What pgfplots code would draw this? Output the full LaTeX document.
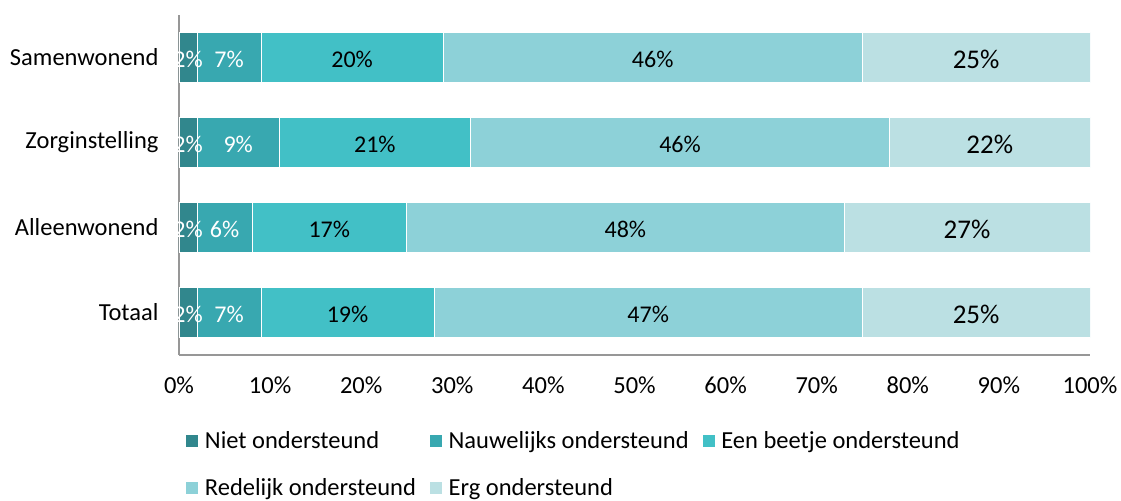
\documentclass[border=0pt]{standalone}
\usepackage{pgfplots}
\pgfplotsset{compat=1.18}
\usepackage{fontspec}
\setmainfont{Carlito}
\definecolor{c1}{HTML}{31878D}
\definecolor{c2}{HTML}{38A8B0}
\definecolor{c3}{HTML}{42C0C6}
\definecolor{c4}{HTML}{8DD1D8}
\definecolor{c5}{HTML}{BBE0E3}
\definecolor{axgray}{HTML}{979797}
\begin{document}
\begin{tikzpicture}[font=\fontsize{24.5}{29}\selectfont]
\begin{axis}[
  at={(0,0)}, anchor=south west,
  xbar stacked, bar width=50pt,
  scale only axis, width=911pt, height=340pt,
  xmin=0, xmax=100, ymin=-0.5, ymax=3.5,
  xtick={0,10,...,100},
  xticklabel={\pgfmathprintnumber{\tick}\%},
  ytick={0,1,2,3},
  yticklabels={Totaal,Alleenwonend,Zorginstelling,Samenwonend},
  axis x line=bottom, axis y line=left,
  axis line style={-, axgray, line width=1.2pt},
  major tick length=0pt,
  /pgf/number format/assume math mode=true,
  xticklabel style={yshift=-18pt},
  yticklabel style={xshift=-17pt},
  nodes near coords={\pgfmathprintnumber{\pgfplotspointmeta}\%},
  every node near coord/.append style={font=\fontsize{24}{29}\selectfont, yshift=-1.5pt},
  legend columns=3,
  legend cell align=left,
  legend style={draw=none, inner sep=0pt, at={(axis description cs:0,0)}, anchor=north west,
    xshift=6pt, yshift=-75pt, row sep=24pt,
    nodes={inner sep=0pt, text height=18pt, text depth=5pt},
    /tikz/every odd column/.append style={column sep=6pt},
    /tikz/every even column/.append style={column sep=13pt}},
  legend image code/.code={\fill[#1] (0pt,-6pt) rectangle (13pt,7pt);},
]
\addplot[fill=c1, draw=white, line width=0.75pt, every node near coord/.append style={white}]
  coordinates {(2,0) (2,1) (2,2) (2,3)};
\addplot[fill=c2, draw=white, line width=0.75pt, every node near coord/.append style={white}]
  coordinates {(7,0) (6,1) (9,2) (7,3)};
\addplot[fill=c3, draw=white, line width=0.75pt, every node near coord/.append style={black}]
  coordinates {(19,0) (17,1) (21,2) (20,3)};
\addplot[fill=c4, draw=white, line width=0.75pt, every node near coord/.append style={black}]
  coordinates {(47,0) (48,1) (46,2) (46,3)};
\addplot[fill=c5, draw=white, line width=0.75pt, every node near coord/.append style={black, font=\fontsize{27}{32}\selectfont}]
  coordinates {(25,0) (27,1) (22,2) (25,3)};
\legend{Niet ondersteund, Nauwelijks ondersteund, Een beetje ondersteund, Redelijk ondersteund, Erg ondersteund}
\end{axis}
\useasboundingbox (-179pt,-144pt) rectangle (942pt,355pt);
\end{tikzpicture}
\end{document}
